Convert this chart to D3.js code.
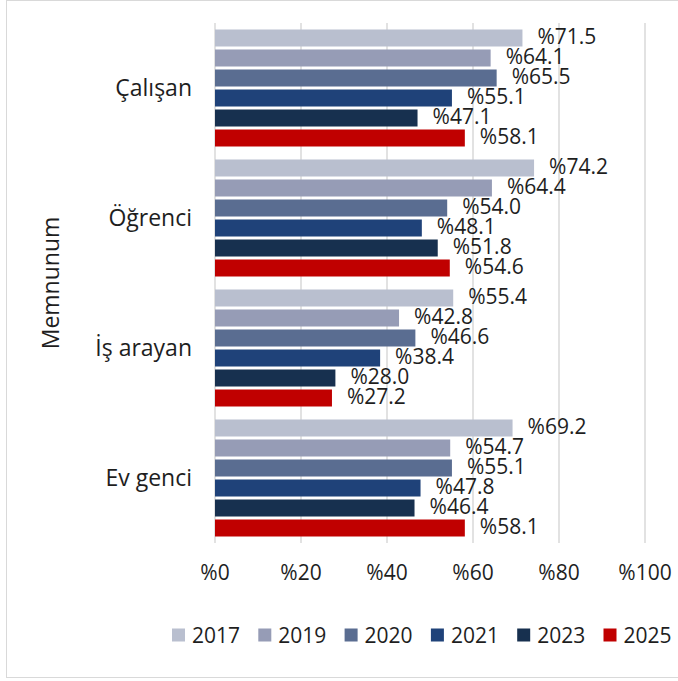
<!DOCTYPE html>
<html>
<head>
<meta charset="utf-8">
<script src="https://cdn.jsdelivr.net/npm/d3@7"></script>
<style>
  body { margin: 0; background: #fff; }
  svg text { font-family: 'Open Sans', sans-serif; fill: #1e1e1e; }
</style>
</head>
<body>
<div id="chart"></div>
<script>
const categories = ['Çalışan', 'Öğrenci', 'İş arayan', 'Ev genci']
const years = ['2017', '2019', '2020', '2021', '2023', '2025']
const colors = ['#b9bfcf', '#969cb6', '#5a6d91', '#1f4279', '#17304f', '#c00000']
const v2017 = [71.5, 74.2, 55.4, 69.2]
const v2019 = [64.1, 64.4, 42.8, 54.7]
const v2020 = [65.5, 54.0, 46.6, 55.1]
const v2021 = [55.1, 48.1, 38.4, 47.8]
const v2023 = [47.1, 51.8, 28.0, 46.4]
const v2025 = [58.1, 54.6, 27.2, 58.1]
const xTicks = [0, 20, 40, 60, 80, 100]
const axisTitle = 'Memnunum'

const series = [v2017, v2019, v2020, v2021, v2023, v2025]
const data = []
categories.forEach((c, ci) => {
    years.forEach((y, yi) => data.push({ cat: c, year: y, value: series[yi][ci], color: colors[yi] }))
})

const width = 678
const height = 681
const plot = { left: 215, right: 645, top: 23, bottom: 543 }

const svg = d3.select('#chart').append('svg')
    .attr('width', width).attr('height', height)

// outer frame
svg.append('rect')
    .attr('x', 6.5).attr('y', 0.5)
    .attr('width', 700).attr('height', 677)
    .attr('fill', 'none').attr('stroke', '#d9d9d9')

const x = d3.scaleLinear().domain([0, 100]).range([plot.left, plot.right])
const y0 = d3.scaleBand().domain(categories).range([plot.top, plot.bottom])
const y1 = d3.scaleBand().domain(years).range([5, y0.bandwidth() - 5])
const barH = 17

// grid
svg.append('g').selectAll('line')
    .data(xTicks)
    .join('line')
    .attr('x1', d => x(d)).attr('x2', d => x(d))
    .attr('y1', plot.top).attr('y2', plot.bottom)
    .attr('stroke', '#d9d9d9').attr('stroke-width', 1.5)

// bars
const groups = svg.append('g').selectAll('g')
    .data(categories)
    .join('g')
    .attr('transform', d => `translate(0,${y0(d)})`)

groups.selectAll('rect')
    .data(c => data.filter(d => d.cat == c))
    .join('rect')
    .attr('x', x(0))
    .attr('y', d => y1(d.year) + (y1.bandwidth() - barH) / 2)
    .attr('width', d => x(d.value) - x(0))
    .attr('height', barH)
    .attr('fill', d => d.color)

groups.selectAll('text')
    .data(c => data.filter(d => d.cat == c))
    .join('text')
    .attr('x', d => x(d.value) + 15)
    .attr('y', d => y1(d.year) + y1.bandwidth() / 2 + 5.5)
    .style('font-size', '21px')
    .text(d => '%' + d.value.toFixed(1))

// category labels
svg.append('g').selectAll('text')
    .data(categories)
    .join('text')
    .attr('x', 192)
    .attr('y', d => y0(d) + y0.bandwidth() / 2 + 8)
    .attr('text-anchor', 'end')
    .style('font-size', '23px')
    .text(d => d)

// axis title
svg.append('text')
    .attr('transform', `translate(59,${(plot.top + plot.bottom) / 2}) rotate(-90)`)
    .attr('text-anchor', 'middle')
    .style('font-size', '23px')
    .text(axisTitle)

// tick labels
svg.append('g').selectAll('text')
    .data(xTicks)
    .join('text')
    .attr('x', d => x(d))
    .attr('y', 580)
    .attr('text-anchor', 'middle')
    .style('font-size', '21px')
    .text(d => '%' + d)

// legend
const legend = svg.append('g').selectAll('g')
    .data(years)
    .join('g')
    .attr('transform', (d, i) => `translate(${172 + i * 86.3},635)`)
legend.append('rect')
    .attr('x', 0).attr('y', -6.5)
    .attr('width', 13).attr('height', 13)
    .attr('fill', (d, i) => colors[i])
legend.append('text')
    .attr('x', 20).attr('y', 7.5)
    .style('font-size', '21px')
    .text(d => d)
</script>
</body>
</html>
